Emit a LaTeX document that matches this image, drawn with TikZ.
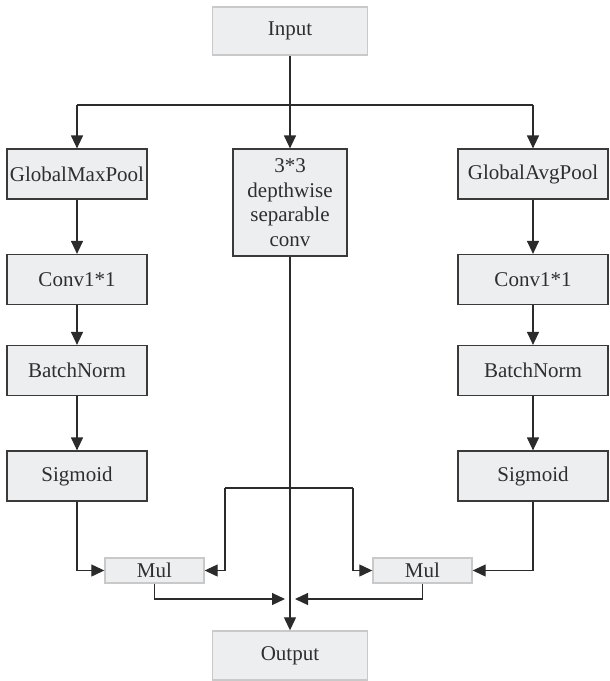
\documentclass[tikz,border=0pt]{standalone}
\usepackage{fontspec}
\setmainfont{Liberation Serif}
\usetikzlibrary{arrows.meta}
\definecolor{boxfill}{HTML}{EDEEF0}
\definecolor{boxline}{HTML}{3A3A3A}
\definecolor{lightline}{HTML}{C9C9C9}
\definecolor{wirecol}{HTML}{2B2B2B}
\definecolor{txt}{HTML}{2E2E2E}
\begin{document}
\begin{tikzpicture}[x=1pt,y=-1pt,
  box/.style={draw=boxline,line width=1.2pt,fill=boxfill,inner sep=0pt,
    font=\fontsize{21}{24.5}\selectfont,text=txt,align=center},
  lbox/.style={box,draw=lightline,line width=1.4pt},
  colbox/.style={box,minimum width=140pt,minimum height=50pt},
  rcolbox/.style={box,minimum width=150pt,minimum height=50pt},
  mulbox/.style={lbox,minimum width=99pt,minimum height=25pt},
  wire/.style={draw=wirecol,line width=1.2pt},
  arr/.style={wire,-{Triangle[length=13pt,width=12pt]}}]
\useasboundingbox (0,0) rectangle (610,681);
% nodes
\node[lbox,minimum width=155pt,minimum height=48pt] (in) at (290,31) {Input};
\node[colbox] (gmp) at (77,174) {GlobalMaxPool};
\node[box,minimum width=114pt,minimum height=107pt] (mid) at (290,202.5) {3*3\\depthwise\\separable\\conv};
\node[rcolbox] (gap) at (533,174) {GlobalAvgPool};
\node[colbox] (c1) at (77,279.5) {Conv1*1};
\node[rcolbox] (c2) at (533,279.5) {Conv1*1};
\node[colbox] (bn1) at (77,370.5) {BatchNorm};
\node[rcolbox] (bn2) at (533,370.5) {BatchNorm};
\node[colbox] (sg1) at (77,476) {Sigmoid};
\node[rcolbox] (sg2) at (533,476) {Sigmoid};
\node[mulbox] (mul1) at (154.5,570.5) {Mul};
\node[mulbox] (mul2) at (422.5,570.5) {Mul};
\node[lbox,minimum width=155pt,minimum height=49pt] (out) at (290,655.5) {Output};
% junction coordinates
\coordinate (bj) at (290,105);
\coordinate (tl) at (225,488);
\coordinate (tr) at (353,488);
\coordinate (ml) at (285,599);
\coordinate (mr) at (295,599);
% top distribution
\draw[wire] (gmp.north |- bj) -- (gap.north |- bj);
\draw[arr] (in.south) -- (mid.north);
\draw[arr] (gmp.north |- bj) -- (gmp.north);
\draw[arr] (gap.north |- bj) -- (gap.north);
% columns
\draw[arr] (gmp.south) -- (c1.north);
\draw[arr] (c1.south) -- (bn1.north);
\draw[arr] (bn1.south) -- (sg1.north);
\draw[arr] (gap.south) -- (c2.north);
\draw[arr] (c2.south) -- (bn2.north);
\draw[arr] (bn2.south) -- (sg2.north);
\draw[arr] (sg1.south) |- (mul1.west);
\draw[arr] (sg2.south) |- (mul2.east);
% middle
\draw[arr] (mid.south) -- (out.north);
\draw[wire] (tl) -- (tr);
\draw[arr] (tl) |- (mul1.east);
\draw[arr] (tr) |- (mul2.west);
\draw[arr] (mul1.south) |- (ml);
\draw[arr] (mul2.south) |- (mr);
\end{tikzpicture}
\end{document}
